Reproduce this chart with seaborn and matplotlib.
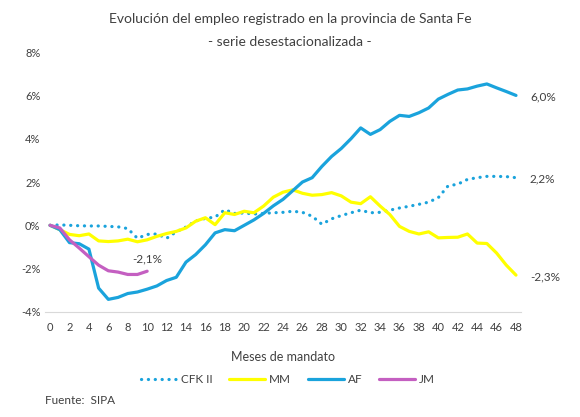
import numpy as np
import pandas as pd
import seaborn as sns
import matplotlib.pyplot as plt

# meses de mandato
meses = list(range(49))

cfk = [0, 0.02, 0.0, -0.02, -0.03, -0.03, -0.05, -0.07, -0.15, -0.6, -0.42, -0.4, -0.6, -0.3, -0.08,
       0.2, 0.32, 0.38, 0.72, 0.55, 0.57, 0.52, 0.55, 0.58, 0.6, 0.65, 0.6, 0.42, 0.05, 0.3,
       0.45, 0.58, 0.7, 0.58, 0.6, 0.7, 0.8, 0.88, 0.97, 1.07, 1.28, 1.82, 1.9, 2.12, 2.2, 2.26,
       2.26, 2.25, 2.2]
mm = [0, -0.2, -0.42, -0.48, -0.4, -0.72, -0.75, -0.72, -0.64, -0.76, -0.67, -0.51, -0.38, -0.28,
      -0.12, 0.19, 0.35, 0.03, 0.58, 0.5, 0.65, 0.58, 0.89, 1.3, 1.53, 1.64, 1.48, 1.39, 1.42, 1.51,
      1.36, 1.07, 1.0, 1.32, 0.89, 0.5, -0.05, -0.28, -0.4, -0.3, -0.58, -0.56, -0.55, -0.4, -0.82,
      -0.84, -1.28, -1.84, -2.3]
af = [0, -0.2, -0.8, -0.85, -1.1, -2.9, -3.42, -3.33, -3.15, -3.08, -2.95, -2.8, -2.55, -2.4, -1.7,
      -1.35, -0.9, -0.35, -0.2, -0.25, 0.0, 0.25, 0.55, 0.9, 1.2, 1.6, 2.0, 2.2, 2.72, 3.18, 3.55,
      4.0, 4.5, 4.2, 4.42, 4.8, 5.08, 5.03, 5.2, 5.42, 5.83, 6.05, 6.25, 6.3, 6.43, 6.53, 6.35,
      6.18, 6.0]
jm = [0, -0.12, -0.67, -1.05, -1.45, -1.84, -2.1, -2.16, -2.27, -2.27, -2.12]

series = [("CFK II", cfk, "#1aa3dc", (0, (0.05, 2.1))),
          ("MM", mm, "#ffff00", "-"),
          ("AF", af, "#1aa3dc", "-"),
          ("JM", jm, "#c45fc1", "-")]

sns.set_style("white")
plt.rcParams['font.family'] = ['Lato', 'DejaVu Sans']
fig = plt.figure(figsize=(5.8, 4.17), dpi=100)
ax = fig.add_axes([0.078, 0.252, 0.82, 0.623])

for name, vals, col, ls in series:
    df = pd.DataFrame({"mes": meses[:len(vals)], "v": vals})
    sns.lineplot(data=df, x="mes", y="v", ax=ax, color=col, linestyle=ls, linewidth=2.3,
                 label=name, solid_capstyle="round", dash_capstyle="round")

txt = "#404040"
ax.set_xlim(-0.5, 48.5)
ax.set_ylim(-4, 8)
ax.set_xticks(range(0, 49, 2))
ax.set_yticks(range(-4, 9, 2))
ax.set_yticklabels([f"{t}%" for t in range(-4, 9, 2)])
ax.tick_params(axis="both", labelsize=8, colors=txt, length=0)
ax.tick_params(axis="x", pad=7)
sns.despine(ax=ax, left=True, top=True, right=True)
ax.spines["bottom"].set_color("#d9d9d9")
ax.set_xlabel("Meses de mandato", fontsize=9, color=txt, labelpad=13)
ax.set_ylabel("")

# etiquetas finales
ax.annotate("6,0%", (48, af[-1]), xytext=(10, -1), textcoords="offset points",
            va="center", fontsize=8.5, color=txt)
ax.annotate("2,2%", (48, cfk[-1]), xytext=(10, -1), textcoords="offset points",
            va="center", fontsize=8.5, color=txt)
ax.annotate("-2,3%", (48, mm[-1]), xytext=(10, -1), textcoords="offset points",
            va="center", fontsize=8.5, color=txt)
ax.annotate("-2,1%", (10, jm[-1]), xytext=(0, 9), textcoords="offset points",
            ha="center", va="center", fontsize=8.5, color=txt)

fig.text(0.5, 0.955, "Evolución del empleo registrado en la provincia de Santa Fe",
         ha="center", va="center", fontsize=10, color=txt)
fig.text(0.5, 0.9, "- serie desestacionalizada -", ha="center", va="center", fontsize=10, color=txt)

leg = ax.legend(loc="center", bbox_to_anchor=(0.51, -0.262), ncol=4, frameon=False,
                fontsize=8.5, handlelength=3.1, columnspacing=1.4, handletextpad=0.3)
for t in leg.get_texts():
    t.set_color(txt)

fig.text(0.078, 0.04, "Fuente:  SIPA", ha="left", va="center", fontsize=8.5, color=txt)

fig.savefig("out.png", dpi=100)
